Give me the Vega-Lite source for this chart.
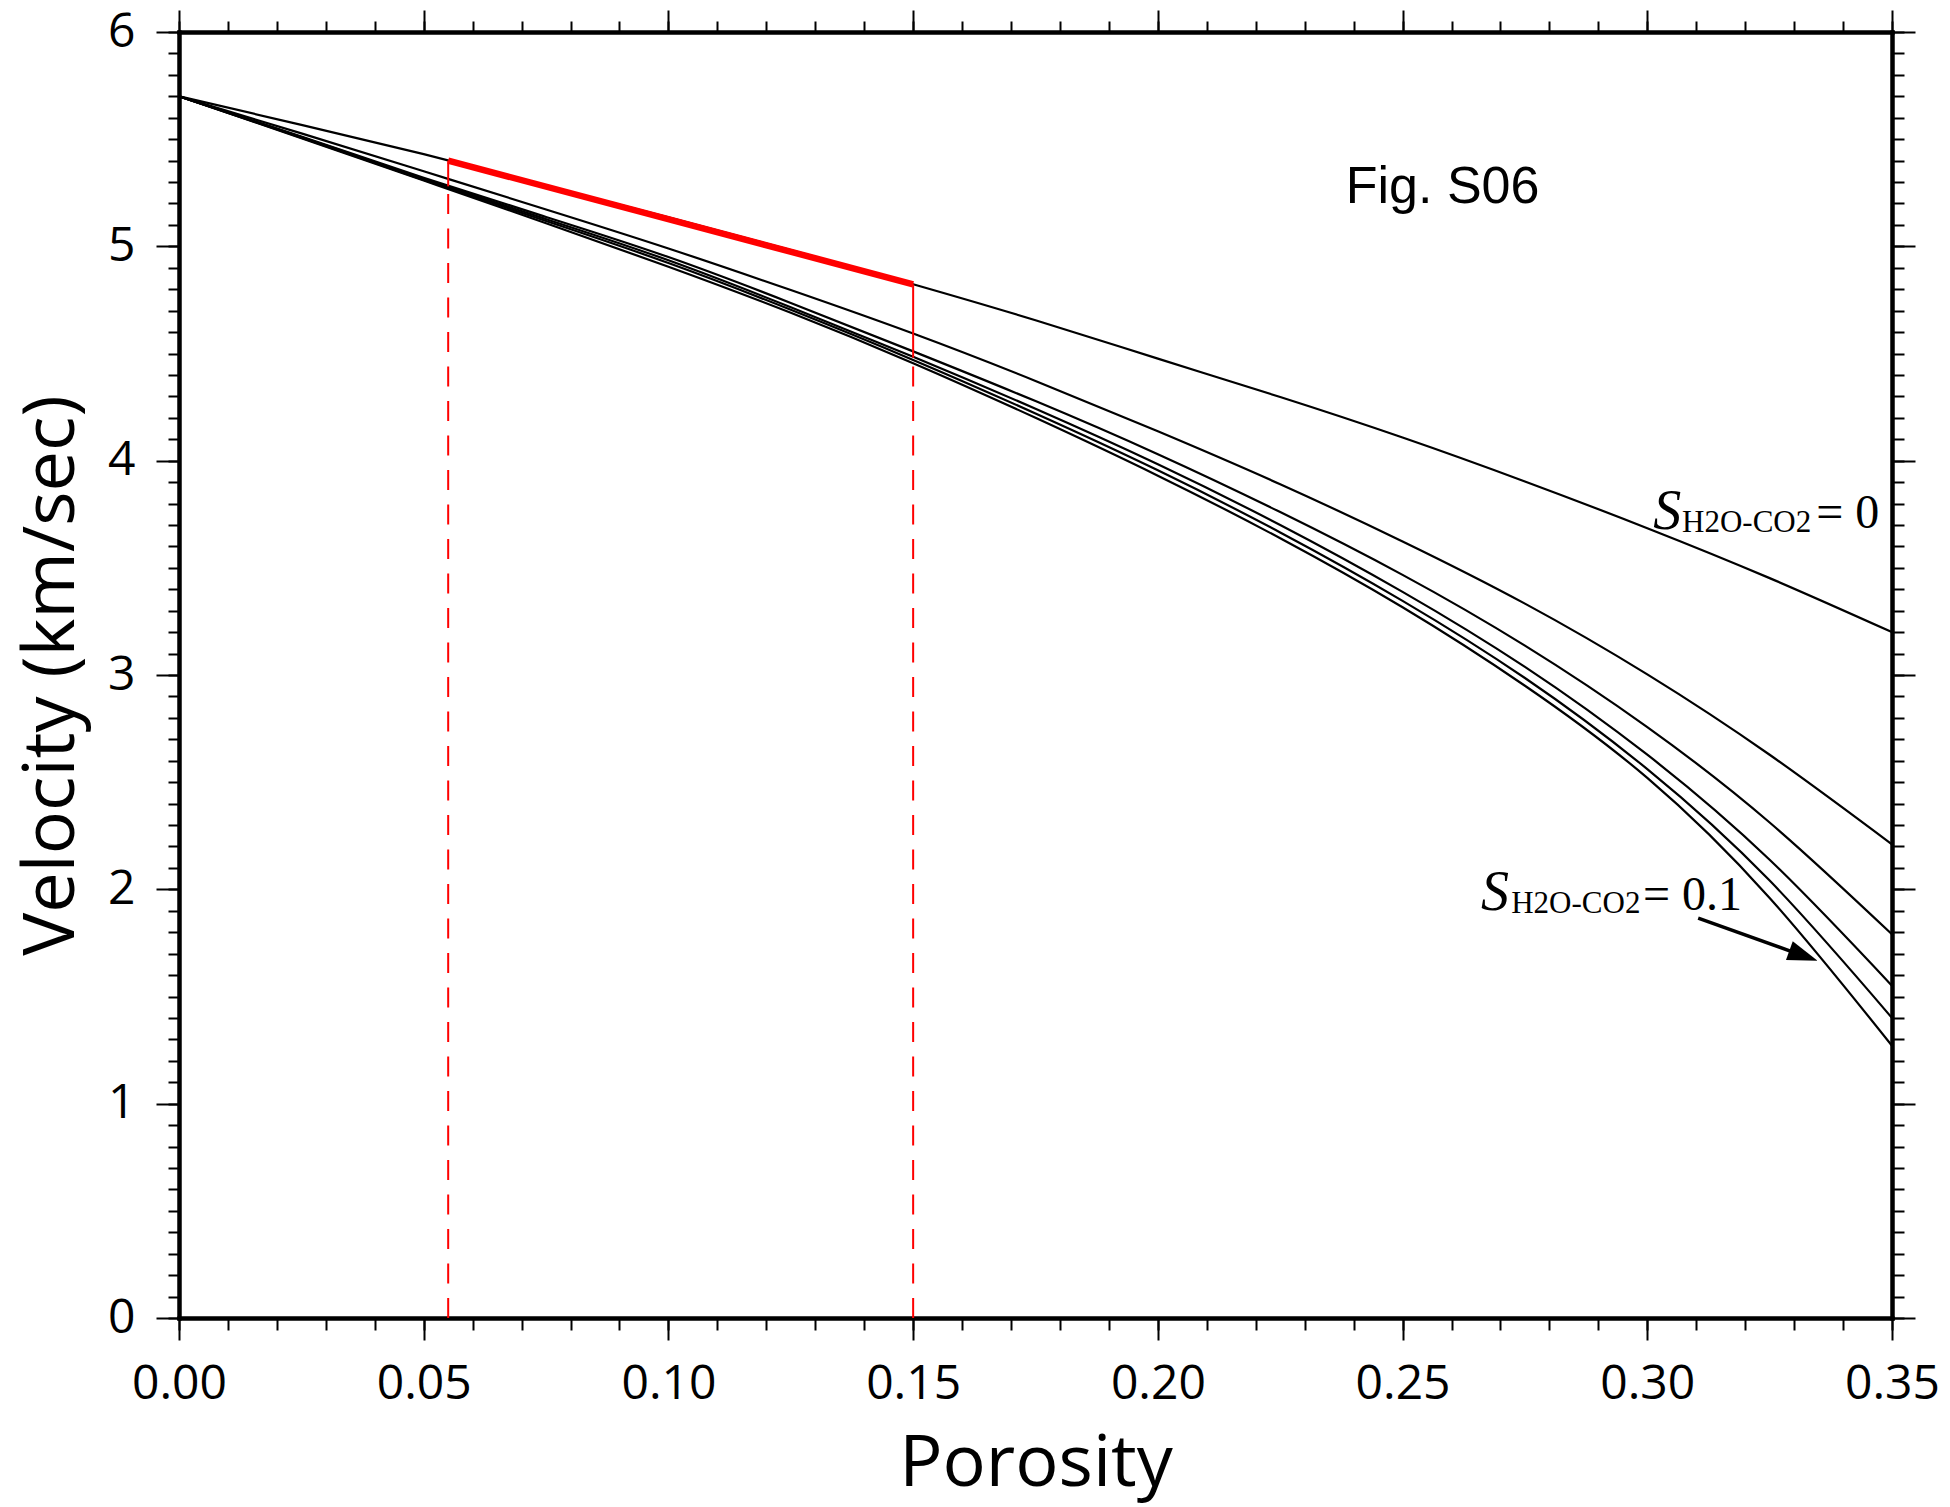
{
  "$schema": "https://vega.github.io/schema/vega-lite/v6.json",
  "width": 1713,
  "height": 1286,
  "autosize": {"type": "none"},
  "padding": {"left": 179, "top": 32, "right": 58, "bottom": 189},
  "background": "white",
  "config": {
    "view": {"stroke": null},
    "axis": {"grid": false, "domainColor": "black", "tickColor": "black", "labelColor": "black", "titleColor": "black", "domainWidth": 4, "tickWidth": 2, "domainCap": "square"}
  },
  "datasets": {
    "curves": [
      {"s": "0", "p": 0, "v": 5.7}, {"s": "0", "p": 0.025, "v": 5.567}, {"s": "0", "p": 0.05, "v": 5.43}, {"s": "0", "p": 0.075, "v": 5.283}, {"s": "0", "p": 0.1, "v": 5.135}, {"s": "0", "p": 0.125, "v": 4.983}, {"s": "0", "p": 0.15, "v": 4.823}, {"s": "0", "p": 0.175, "v": 4.655}, {"s": "0", "p": 0.2, "v": 4.476}, {"s": "0", "p": 0.225, "v": 4.297}, {"s": "0", "p": 0.25, "v": 4.108}, {"s": "0", "p": 0.275, "v": 3.903}, {"s": "0", "p": 0.3, "v": 3.685}, {"s": "0", "p": 0.325, "v": 3.452}, {"s": "0", "p": 0.35, "v": 3.2},
      {"s": "0.02", "p": 0, "v": 5.7}, {"s": "0.02", "p": 0.025, "v": 5.527}, {"s": "0.02", "p": 0.05, "v": 5.35}, {"s": "0.02", "p": 0.075, "v": 5.172}, {"s": "0.02", "p": 0.1, "v": 4.99}, {"s": "0.02", "p": 0.125, "v": 4.796}, {"s": "0.02", "p": 0.15, "v": 4.593}, {"s": "0.02", "p": 0.175, "v": 4.372}, {"s": "0.02", "p": 0.2, "v": 4.137}, {"s": "0.02", "p": 0.225, "v": 3.89}, {"s": "0.02", "p": 0.25, "v": 3.623}, {"s": "0.02", "p": 0.275, "v": 3.333}, {"s": "0.02", "p": 0.3, "v": 3.003}, {"s": "0.02", "p": 0.325, "v": 2.628}, {"s": "0.02", "p": 0.35, "v": 2.21},
      {"s": "0.04", "p": 0, "v": 5.7}, {"s": "0.04", "p": 0.025, "v": 5.512}, {"s": "0.04", "p": 0.05, "v": 5.32}, {"s": "0.04", "p": 0.075, "v": 5.137}, {"s": "0.04", "p": 0.1, "v": 4.95}, {"s": "0.04", "p": 0.125, "v": 4.736}, {"s": "0.04", "p": 0.15, "v": 4.51}, {"s": "0.04", "p": 0.175, "v": 4.278}, {"s": "0.04", "p": 0.2, "v": 4.03}, {"s": "0.04", "p": 0.225, "v": 3.76}, {"s": "0.04", "p": 0.25, "v": 3.467}, {"s": "0.04", "p": 0.275, "v": 3.137}, {"s": "0.04", "p": 0.3, "v": 2.757}, {"s": "0.04", "p": 0.325, "v": 2.312}, {"s": "0.04", "p": 0.35, "v": 1.79},
      {"s": "0.06", "p": 0, "v": 5.7}, {"s": "0.06", "p": 0.025, "v": 5.51}, {"s": "0.06", "p": 0.05, "v": 5.315}, {"s": "0.06", "p": 0.075, "v": 5.127}, {"s": "0.06", "p": 0.1, "v": 4.935}, {"s": "0.06", "p": 0.125, "v": 4.716}, {"s": "0.06", "p": 0.15, "v": 4.485}, {"s": "0.06", "p": 0.175, "v": 4.242}, {"s": "0.06", "p": 0.2, "v": 3.983}, {"s": "0.06", "p": 0.225, "v": 3.7}, {"s": "0.06", "p": 0.25, "v": 3.388}, {"s": "0.06", "p": 0.275, "v": 3.038}, {"s": "0.06", "p": 0.3, "v": 2.628}, {"s": "0.06", "p": 0.325, "v": 2.138}, {"s": "0.06", "p": 0.35, "v": 1.55},
      {"s": "0.08", "p": 0, "v": 5.7}, {"s": "0.08", "p": 0.025, "v": 5.507}, {"s": "0.08", "p": 0.05, "v": 5.31}, {"s": "0.08", "p": 0.075, "v": 5.118}, {"s": "0.08", "p": 0.1, "v": 4.922}, {"s": "0.08", "p": 0.125, "v": 4.704}, {"s": "0.08", "p": 0.15, "v": 4.47}, {"s": "0.08", "p": 0.175, "v": 4.22}, {"s": "0.08", "p": 0.2, "v": 3.955}, {"s": "0.08", "p": 0.225, "v": 3.665}, {"s": "0.08", "p": 0.25, "v": 3.346}, {"s": "0.08", "p": 0.275, "v": 2.986}, {"s": "0.08", "p": 0.3, "v": 2.561}, {"s": "0.08", "p": 0.325, "v": 2.041}, {"s": "0.08", "p": 0.35, "v": 1.4},
      {"s": "0.1", "p": 0, "v": 5.7}, {"s": "0.1", "p": 0.025, "v": 5.505}, {"s": "0.1", "p": 0.05, "v": 5.307}, {"s": "0.1", "p": 0.075, "v": 5.108}, {"s": "0.1", "p": 0.1, "v": 4.905}, {"s": "0.1", "p": 0.125, "v": 4.69}, {"s": "0.1", "p": 0.15, "v": 4.455}, {"s": "0.1", "p": 0.175, "v": 4.2}, {"s": "0.1", "p": 0.2, "v": 3.93}, {"s": "0.1", "p": 0.225, "v": 3.638}, {"s": "0.1", "p": 0.25, "v": 3.316}, {"s": "0.1", "p": 0.275, "v": 2.95}, {"s": "0.1", "p": 0.3, "v": 2.52}, {"s": "0.1", "p": 0.325, "v": 1.96}, {"s": "0.1", "p": 0.35, "v": 1.27}
    ],
    "redline": [{"p": 0.055, "v": 5.4}, {"p": 0.15, "v": 4.823}],
    "guides": [{"p": 0.055, "top": 5.4, "mid": 5.28, "base": 0}, {"p": 0.15, "top": 4.823, "mid": 4.48, "base": 0}],
    "arrow": [{"p": 0.3104, "v": 1.866, "p2": 0.3319, "v2": 1.69, "tp": 0.3348, "tv": 1.667}],
    "fig": [{"p": 0.2384, "v": 5.2, "t": "Fig. S06"}],
    "sletter": [{"p": 0.3012, "v": 3.68, "t": "S"}, {"p": 0.266, "v": 1.903, "t": "S"}],
    "subs": [{"p": 0.3071, "v": 3.666, "t": "H2O-CO2"}, {"p": 0.2722, "v": 1.889, "t": "H2O-CO2"}],
    "eqs": [{"p": 0.3345, "v": 3.685, "t": "= 0"}, {"p": 0.2991, "v": 1.903, "t": "= 0.1"}]
  },
  "resolve": {"axis": {"x": "independent", "y": "independent"}},
  "layer": [
    {
      "data": {"name": "curves"},
      "mark": {"type": "line", "color": "black", "strokeWidth": 2.2, "interpolate": "natural"},
      "encoding": {
        "x": {"field": "p", "type": "quantitative", "scale": {"domain": [0, 0.35], "nice": false, "zero": false},
          "axis": {"orient": "bottom", "values": [0, 0.05, 0.1, 0.15, 0.2, 0.25, 0.3, 0.35], "format": ".2f", "labelFont": "Open Sans", "labelFontSize": 48, "tickSize": 22, "labelPadding": 20, "labelFlush": false, "labelOverlap": false, "title": "Porosity", "titleFont": "Open Sans", "titleFontSize": 72, "titleFontWeight": "normal", "titlePadding": 20}},
        "y": {"field": "v", "type": "quantitative", "scale": {"domain": [0, 6], "nice": false, "zero": false},
          "axis": {"orient": "left", "values": [0, 1, 2, 3, 4, 5, 6], "format": "d", "labelFont": "Open Sans", "labelFontSize": 48, "tickSize": 23, "labelPadding": 21, "labelFlush": false, "labelOverlap": false, "title": "Velocity (km/sec)", "titleFont": "Open Sans", "titleFontSize": 72, "titleFontWeight": "normal", "titlePadding": 19}},
        "detail": {"field": "s", "type": "nominal"}
      }
    },
    {
      "data": {"name": "redline"},
      "mark": {"type": "line", "color": "#ff0000", "strokeWidth": 6.5, "strokeCap": "butt"},
      "encoding": {
        "x": {"field": "p", "type": "quantitative", "scale": {"domain": [0, 0.35], "nice": false, "zero": false},
          "axis": {"orient": "bottom", "values": [0, 0.01, 0.02, 0.03, 0.04, 0.05, 0.06, 0.07, 0.08, 0.09, 0.1, 0.11, 0.12, 0.13, 0.14, 0.15, 0.16, 0.17, 0.18, 0.19, 0.2, 0.21, 0.22, 0.23, 0.24, 0.25, 0.26, 0.27, 0.28, 0.29, 0.3, 0.31, 0.32, 0.33, 0.34, 0.35], "labels": false, "tickSize": 12, "title": null}},
        "y": {"field": "v", "type": "quantitative", "scale": {"domain": [0, 6], "nice": false, "zero": false},
          "axis": {"orient": "left", "values": [0, 0.1, 0.2, 0.3, 0.4, 0.5, 0.6, 0.7, 0.8, 0.9, 1, 1.1, 1.2, 1.3, 1.4, 1.5, 1.6, 1.7, 1.8, 1.9, 2, 2.1, 2.2, 2.3, 2.4, 2.5, 2.6, 2.7, 2.8, 2.9, 3, 3.1, 3.2, 3.3, 3.4, 3.5, 3.6, 3.7, 3.8, 3.9, 4, 4.1, 4.2, 4.3, 4.4, 4.5, 4.6, 4.7, 4.8, 4.9, 5, 5.1, 5.2, 5.3, 5.4, 5.5, 5.6, 5.7, 5.8, 5.9, 6], "labels": false, "tickSize": 11, "title": null}}
      }
    },
    {
      "data": {"name": "guides"},
      "mark": {"type": "rule", "color": "#ff0000", "strokeWidth": 2, "strokeDash": [20, 14.5]},
      "encoding": {
        "x": {"field": "p", "type": "quantitative", "scale": {"domain": [0, 0.35], "nice": false, "zero": false},
          "axis": {"orient": "top", "values": [0, 0.05, 0.1, 0.15, 0.2, 0.25, 0.3, 0.35], "labels": false, "tickSize": 22, "title": null}},
        "y": {"field": "base", "type": "quantitative", "scale": {"domain": [0, 6], "nice": false, "zero": false},
          "axis": {"orient": "right", "values": [0, 1, 2, 3, 4, 5, 6], "labels": false, "tickSize": 23, "title": null}},
        "y2": {"field": "mid"}
      }
    },
    {
      "data": {"name": "guides"},
      "mark": {"type": "rule", "color": "#ff0000", "strokeWidth": 2},
      "encoding": {
        "x": {"field": "p", "type": "quantitative", "scale": {"domain": [0, 0.35], "nice": false, "zero": false},
          "axis": {"orient": "top", "values": [0, 0.01, 0.02, 0.03, 0.04, 0.05, 0.06, 0.07, 0.08, 0.09, 0.1, 0.11, 0.12, 0.13, 0.14, 0.15, 0.16, 0.17, 0.18, 0.19, 0.2, 0.21, 0.22, 0.23, 0.24, 0.25, 0.26, 0.27, 0.28, 0.29, 0.3, 0.31, 0.32, 0.33, 0.34, 0.35], "labels": false, "tickSize": 11, "title": null}},
        "y": {"field": "mid", "type": "quantitative", "scale": {"domain": [0, 6], "nice": false, "zero": false},
          "axis": {"orient": "right", "values": [0, 0.1, 0.2, 0.3, 0.4, 0.5, 0.6, 0.7, 0.8, 0.9, 1, 1.1, 1.2, 1.3, 1.4, 1.5, 1.6, 1.7, 1.8, 1.9, 2, 2.1, 2.2, 2.3, 2.4, 2.5, 2.6, 2.7, 2.8, 2.9, 3, 3.1, 3.2, 3.3, 3.4, 3.5, 3.6, 3.7, 3.8, 3.9, 4, 4.1, 4.2, 4.3, 4.4, 4.5, 4.6, 4.7, 4.8, 4.9, 5, 5.1, 5.2, 5.3, 5.4, 5.5, 5.6, 5.7, 5.8, 5.9, 6], "labels": false, "tickSize": 12, "title": null}},
        "y2": {"field": "top"}
      }
    },
    {
      "data": {"name": "arrow"},
      "mark": {"type": "rule", "color": "black", "strokeWidth": 3.5},
      "encoding": {
        "x": {"field": "p", "type": "quantitative", "scale": {"domain": [0, 0.35], "nice": false, "zero": false}, "axis": null},
        "y": {"field": "v", "type": "quantitative", "scale": {"domain": [0, 6], "nice": false, "zero": false}, "axis": null},
        "x2": {"field": "p2"},
        "y2": {"field": "v2"}
      }
    },
    {
      "data": {"name": "arrow"},
      "mark": {"type": "point", "shape": "M0,0L-2,-0.67L-2,0.67Z", "filled": true, "color": "black", "opacity": 1, "size": 900, "angle": 19.7},
      "encoding": {
        "x": {"field": "tp", "type": "quantitative", "scale": {"domain": [0, 0.35], "nice": false, "zero": false}, "axis": null},
        "y": {"field": "tv", "type": "quantitative", "scale": {"domain": [0, 6], "nice": false, "zero": false}, "axis": null}
      }
    },
    {
      "data": {"name": "fig"},
      "mark": {"type": "text", "font": "Liberation Sans", "fontSize": 52, "align": "left", "baseline": "alphabetic", "color": "black"},
      "encoding": {
        "x": {"field": "p", "type": "quantitative", "scale": {"domain": [0, 0.35], "nice": false, "zero": false}, "axis": null},
        "y": {"field": "v", "type": "quantitative", "scale": {"domain": [0, 6], "nice": false, "zero": false}, "axis": null},
        "text": {"field": "t"}
      }
    },
    {
      "data": {"name": "sletter"},
      "mark": {"type": "text", "font": "Liberation Serif", "fontStyle": "italic", "fontSize": 56, "align": "left", "baseline": "alphabetic", "color": "black"},
      "encoding": {
        "x": {"field": "p", "type": "quantitative", "scale": {"domain": [0, 0.35], "nice": false, "zero": false}, "axis": null},
        "y": {"field": "v", "type": "quantitative", "scale": {"domain": [0, 6], "nice": false, "zero": false}, "axis": null},
        "text": {"field": "t"}
      }
    },
    {
      "data": {"name": "subs"},
      "mark": {"type": "text", "font": "Liberation Serif", "fontSize": 31, "align": "left", "baseline": "alphabetic", "color": "black"},
      "encoding": {
        "x": {"field": "p", "type": "quantitative", "scale": {"domain": [0, 0.35], "nice": false, "zero": false}, "axis": null},
        "y": {"field": "v", "type": "quantitative", "scale": {"domain": [0, 6], "nice": false, "zero": false}, "axis": null},
        "text": {"field": "t"}
      }
    },
    {
      "data": {"name": "eqs"},
      "mark": {"type": "text", "font": "Liberation Serif", "fontSize": 48, "align": "left", "baseline": "alphabetic", "color": "black"},
      "encoding": {
        "x": {"field": "p", "type": "quantitative", "scale": {"domain": [0, 0.35], "nice": false, "zero": false}, "axis": null},
        "y": {"field": "v", "type": "quantitative", "scale": {"domain": [0, 6], "nice": false, "zero": false}, "axis": null},
        "text": {"field": "t"}
      }
    }
  ]
}
